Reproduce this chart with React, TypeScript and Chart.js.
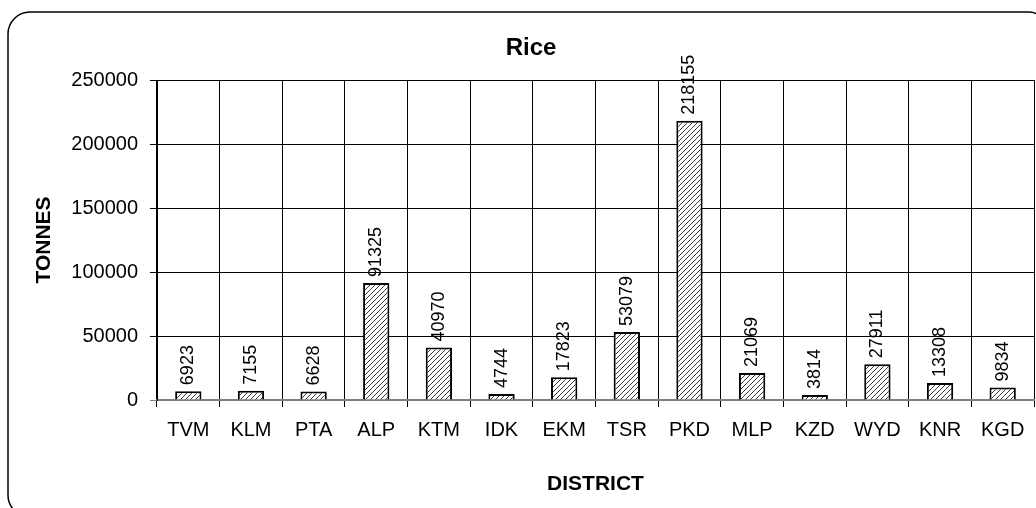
import { useEffect, useRef } from 'react';
import { Chart, registerables } from 'chart.js';

Chart.register(...registerables);

const districts = ['TVM', 'KLM', 'PTA', 'ALP', 'KTM', 'IDK', 'EKM', 'TSR', 'PKD', 'MLP', 'KZD', 'WYD', 'KNR', 'KGD'];
const riceTonnes = [6923, 7155, 6628, 91325, 40970, 4744, 17823, 53079, 218155, 21069, 3814, 27911, 13308, 9834];
const yTickValues = [0, 50000, 100000, 150000, 200000, 250000];
const chartTitle = 'Rice';
const xTitle = 'DISTRICT';
const yTitle = 'TONNES';

const FONT = 'Arial, "Liberation Sans", sans-serif';

function makeHatch(ctx: CanvasRenderingContext2D) {
  const s = 5;
  const c = document.createElement('canvas');
  c.width = s;
  c.height = s;
  const g = c.getContext('2d')!;
  g.fillStyle = '#ffffff';
  g.fillRect(0, 0, s, s);
  g.strokeStyle = '#3a3a3a';
  g.lineWidth = 1;
  g.beginPath();
  g.moveTo(-1, s + 1);
  g.lineTo(s + 1, -1);
  g.moveTo(-1, 1);
  g.lineTo(1, -1);
  g.moveTo(s - 1, s + 1);
  g.lineTo(s + 1, s - 1);
  g.stroke();
  return ctx.createPattern(c, 'repeat')!;
}

const framePlugin = {
  id: 'frame',
  beforeDraw(chart: any) {
    const { ctx } = chart;
    ctx.save();
    ctx.fillStyle = '#ffffff';
    ctx.fillRect(0, 0, chart.width, chart.height);
    const x = 8, y = 12, w = 1042, h = 505, r = 22;
    ctx.beginPath();
    ctx.moveTo(x + r, y);
    ctx.lineTo(x + w - r, y);
    ctx.arcTo(x + w, y, x + w, y + r, r);
    ctx.lineTo(x + w, y + h - r);
    ctx.arcTo(x + w, y + h, x + w - r, y + h, r);
    ctx.lineTo(x + r, y + h);
    ctx.arcTo(x, y + h, x, y + h - r, r);
    ctx.lineTo(x, y + r);
    ctx.arcTo(x, y, x + r, y, r);
    ctx.closePath();
    ctx.strokeStyle = '#000000';
    ctx.lineWidth = 1.5;
    ctx.stroke();
    ctx.restore();
  },
  afterDraw(chart: any) {
    const { ctx } = chart;
    ctx.save();
    ctx.font = `bold 24px ${FONT}`;
    ctx.fillStyle = '#000000';
    ctx.textAlign = 'center';
    ctx.textBaseline = 'alphabetic';
    ctx.fillText(chartTitle, 531, 55);
    ctx.restore();
  },
};

const valueLabelPlugin = {
  id: 'valueLabels',
  afterDatasetsDraw(chart: any) {
    const { ctx } = chart;
    const meta = chart.getDatasetMeta(0);
    const data = chart.data.datasets[0].data as number[];
    ctx.save();
    ctx.font = `18px ${FONT}`;
    ctx.fillStyle = '#000000';
    ctx.textAlign = 'left';
    ctx.textBaseline = 'middle';
    meta.data.forEach((bar: any, i: number) => {
      ctx.save();
      ctx.translate(bar.x, bar.y - 6);
      ctx.rotate(-Math.PI / 2);
      ctx.fillText(String(data[i]), 0, 0);
      ctx.restore();
    });
    ctx.restore();
  },
};

export default function App() {
  const canvasRef = useRef<HTMLCanvasElement | null>(null);

  useEffect(() => {
    const canvas = canvasRef.current!;
    const ctx = canvas.getContext('2d')!;
    const hatch = makeHatch(ctx);
    const chart = new Chart(ctx, {
      type: 'bar',
      data: {
        labels: districts,
        datasets: [
          {
            data: riceTonnes,
            backgroundColor: hatch,
            borderColor: '#000000',
            borderWidth: 2,
            barPercentage: 0.42,
            categoryPercentage: 1,
          },
        ],
      },
      options: {
        animation: false,
        responsive: true,
        maintainAspectRatio: false,
        layout: { padding: { top: 80, right: 2, left: 0, bottom: 0 } },
        plugins: {
          legend: { display: false },
          tooltip: { enabled: false },
          title: { display: false },
        },
        scales: {
          x: {
            offset: true,
            afterFit(scale: any) {
              scale.height = 108;
            },
            grid: {
              offset: true,
              color: '#000000',
              lineWidth: 1,
              drawTicks: true,
              tickLength: 7,
            },
            border: { display: true, color: '#808080', width: 2 },
            ticks: {
              color: '#000000',
              font: { family: FONT, size: 20 },
              padding: 11,
              maxRotation: 0,
              autoSkip: false,
            },
            title: {
              display: true,
              text: xTitle,
              color: '#000000',
              font: { family: FONT, size: 21, weight: 'bold' },
              padding: { top: 0, bottom: 11 },
            },
          },
          y: {
            min: 0,
            max: 250000,
            afterFit(scale: any) {
              scale.width = 157;
            },
            afterBuildTicks(scale: any) {
              scale.ticks = yTickValues.map((v) => ({ value: v }));
            },
            grid: {
              color: (c: any) => (c.tick && c.tick.value === 0 ? '#808080' : '#000000'),
              lineWidth: 1,
              drawTicks: true,
              tickLength: 7,
            },
            border: { display: true, color: '#000000', width: 1 },
            ticks: {
              color: '#000000',
              font: { family: FONT, size: 20 },
              padding: 12,
              callback: (v: any) => String(v),
            },
            title: {
              display: true,
              text: yTitle,
              color: '#000000',
              font: { family: FONT, size: 21, weight: 'bold' },
              padding: { top: 32, bottom: 0 },
            },
          },
        },
      },
      plugins: [framePlugin, valueLabelPlugin],
    });
    return () => chart.destroy();
  }, []);

  return (
    <div style={{ position: 'absolute', left: 0, top: 0, width: 1036, height: 508, overflow: 'hidden' }}>
      <canvas ref={canvasRef} />
    </div>
  );
}
